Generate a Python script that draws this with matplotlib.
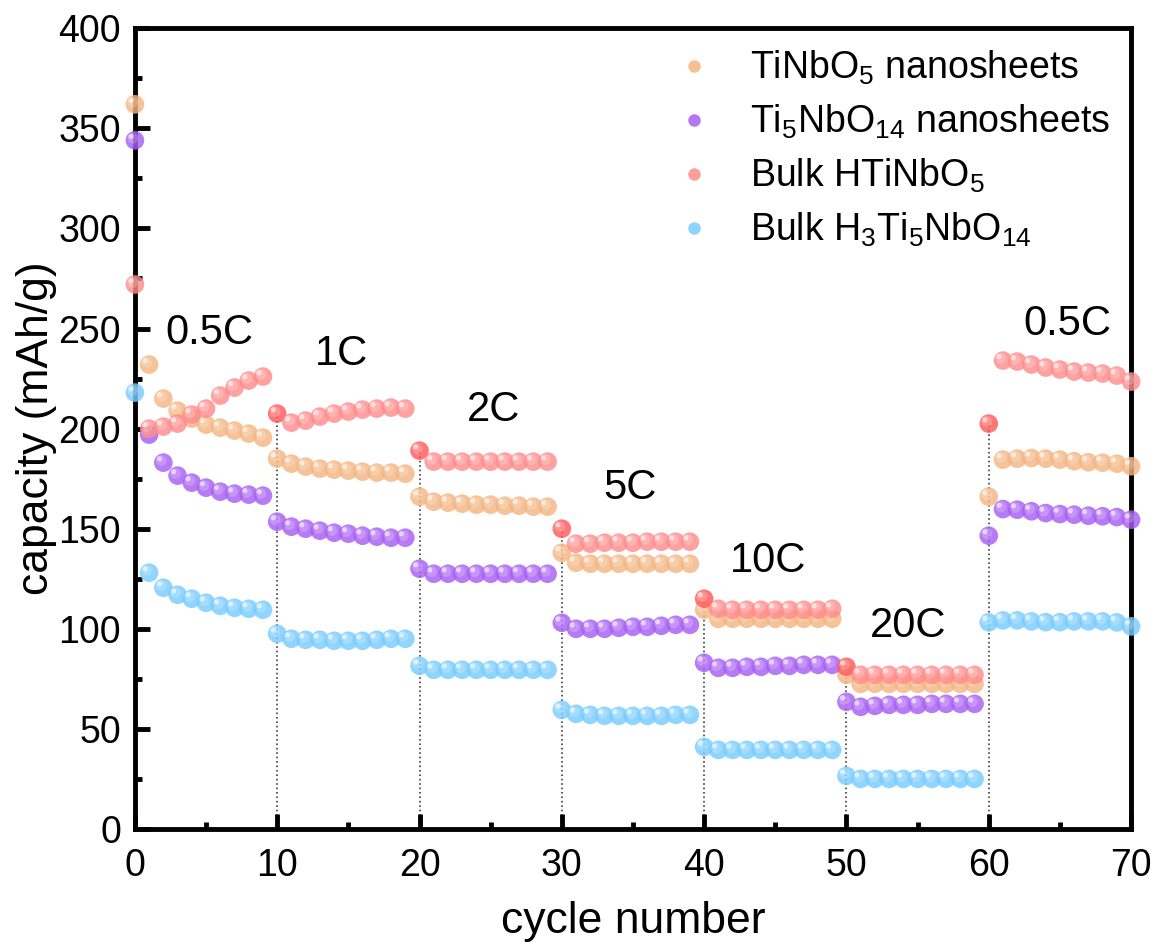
import numpy as np
import matplotlib
matplotlib.use("Agg")
import matplotlib.pyplot as plt
from matplotlib import transforms
from matplotlib.lines import Line2D
from matplotlib.ticker import MultipleLocator

plt.rcParams['font.family'] = ['Liberation Sans', 'DejaVu Sans']
plt.rcParams['mathtext.fontset'] = 'custom'
plt.rcParams['mathtext.rm'] = 'Liberation Sans'
plt.rcParams['mathtext.it'] = 'Liberation Sans'
plt.rcParams['mathtext.default'] = 'regular'

# cycle numbers 0..70
cycles = np.arange(71)

tinbo5_nano = [362,
               232, 215, 209, 205, 202, 200.5, 199, 197.5, 195.5,
               185, 182.5, 181, 180, 179.5, 179, 178.5, 178, 178, 177.5,
               166, 163.5, 163, 162.5, 162, 162, 161.5, 161.5, 161, 161,
               138, 133, 132.5, 132.5, 132.5, 132.5, 132.5, 132.5, 132.5, 132.5,
               109.5, 105, 105, 105, 105, 105, 105, 105, 105, 105,
               77, 72.5, 72.5, 72.5, 72.5, 72.5, 72.5, 72.5, 72.5, 72.5,
               166, 184.5, 185, 185.3, 185, 184.5, 183.7, 183.2, 183, 182.5, 181.2]

ti5nbo14_nano = [344,
                 197, 183, 176.5, 173, 170.5, 168.5, 167.5, 167, 166.5,
                 153.5, 151, 150, 149, 148, 147.5, 146.5, 146, 145.5, 145.5,
                 130, 127.5, 127.5, 127.5, 127.5, 127.5, 127.5, 127.5, 127.5, 127.5,
                 103, 100, 100, 100, 100.5, 101, 101, 101.5, 102, 102,
                 83, 80.5, 80.5, 81, 81, 81.5, 81.5, 82, 82, 82,
                 63.5, 61, 61.5, 62, 62, 62, 62.5, 62.5, 62.5, 62.5,
                 146.5, 159.8, 159.5, 158.7, 157.8, 157.3, 157, 156.5, 156.2, 155.8, 154.5]

bulk_htinbo5 = [272,
                200, 201, 202.5, 207, 210, 216.5, 220.5, 224, 226,
                207.5, 203, 204, 206, 207.5, 208.5, 209.5, 210, 210.5, 210,
                189, 183.5, 183.5, 183.5, 183.5, 183.5, 183.5, 183.5, 183.5, 183.5,
                150, 142.5, 142.5, 143, 143, 143, 143.5, 143.5, 143.5, 143.5,
                115, 110, 109.5, 109.5, 109.5, 109.5, 109.5, 109.5, 109.5, 110,
                81, 77, 77, 77, 77, 77, 77, 77, 77, 77,
                202.5, 234, 233.5, 232, 230.5, 229.5, 228.5, 228, 227.5, 226.5, 223.5]

bulk_h3ti5nbo14 = [218,
                   128, 120.5, 117, 115, 113, 111.5, 110.5, 110, 109.5,
                   97.5, 95, 94.5, 94.5, 94, 94, 94, 94.5, 95, 95,
                   81.5, 79.5, 79.5, 79.5, 79.5, 79.5, 79.5, 79.5, 79.5, 79.5,
                   59.5, 57.5, 57, 56.5, 56.5, 56.5, 56.5, 56.5, 57, 57,
                   41, 39.5, 39.5, 39.5, 39.5, 39.5, 39.5, 39.5, 39.5, 39.5,
                   26.5, 25, 25, 25, 25, 25, 25, 25, 25, 25,
                   103.2, 104.2, 104.2, 103.7, 103.3, 103.3, 103.7, 103.7, 103.7, 103.2, 101.2]

labels = ['TiNbO$_5$ nanosheets', 'Ti$_5$NbO$_{14}$ nanosheets',
          'Bulk HTiNbO$_5$', 'Bulk H$_3$Ti$_5$NbO$_{14}$']
colors = ['#F5B582', '#A85EF5', '#FF8C8C', '#78CCFF']
rate_switch = [10, 20, 30, 40, 50, 60]
rate_labels = ['0.5C', '1C', '2C', '5C', '10C', '20C', '0.5C']

fig = plt.figure(figsize=(11.53, 9.42), dpi=100)
ax = fig.add_axes([0.117, 0.12, 0.864, 0.85])

series = [tinbo5_nano, ti5nbo14_nano, bulk_htinbo5, bulk_h3ti5nbo14]

# dotted separators at rate changes
for c in rate_switch:
    ax.plot([c, c], [0, bulk_htinbo5[c]], ls=':', color='0.25', lw=1.2, zorder=1)

hl1 = transforms.offset_copy(ax.transData, fig=fig, x=-1.5, y=1.5, units='points')
hl2 = transforms.offset_copy(ax.transData, fig=fig, x=-2.8, y=2.8, units='points')

for vals, col in zip(series, colors):
    cols = [col] * len(vals)
    if col == '#FF8C8C':
        for c in rate_switch:
            cols[c] = '#FF5A5A'
    ax.scatter(cycles, vals, s=180, c=cols, alpha=0.82, edgecolors='none',
               zorder=3, clip_on=False)
    ax.scatter(cycles, vals, s=60, c='white', alpha=0.2, edgecolors='none',
               zorder=3, clip_on=False, transform=hl1)
    ax.scatter(cycles, vals, s=14, c='white', alpha=0.6, edgecolors='none',
               zorder=3, clip_on=False, transform=hl2)

# rate labels
rate_pos = [(5.2, 248), (14.5, 237.5), (25.2, 209.5), (34.8, 170.5),
            (44.5, 134), (54.3, 101.5), (65.5, 252.5)]
for txt, (x, y) in zip(rate_labels, rate_pos):
    ax.text(x, y, txt, fontsize=30, ha='center', va='center')

ax.set_xlim(0, 70)
ax.set_ylim(0, 400)
ax.xaxis.set_major_locator(MultipleLocator(10))
ax.xaxis.set_minor_locator(MultipleLocator(5))
ax.yaxis.set_major_locator(MultipleLocator(50))
ax.yaxis.set_minor_locator(MultipleLocator(25))
ax.tick_params(which='both', direction='in', labelsize=27, width=3.5)
ax.tick_params(which='major', length=11, pad=10)
ax.tick_params(axis='x', which='major', pad=14)
ax.tick_params(which='minor', length=5)
for sp in ax.spines.values():
    sp.set_linewidth(3.5)

ax.set_xlabel('cycle number', fontsize=32, labelpad=12)
ax.set_ylabel('capacity (mAh/g)', fontsize=32, labelpad=1)

handles = [Line2D([], [], ls='none', marker='o', markersize=9, color=c,
                  markeredgecolor='none', alpha=0.85) for c in colors]
ax.legend(handles, labels, loc='upper right', frameon=False, fontsize=27,
          handlelength=1.2, handletextpad=0.9, labelspacing=0.42,
          borderaxespad=0.15, bbox_to_anchor=(1.0, 1.0))

fig.savefig('out.png', dpi=100)
